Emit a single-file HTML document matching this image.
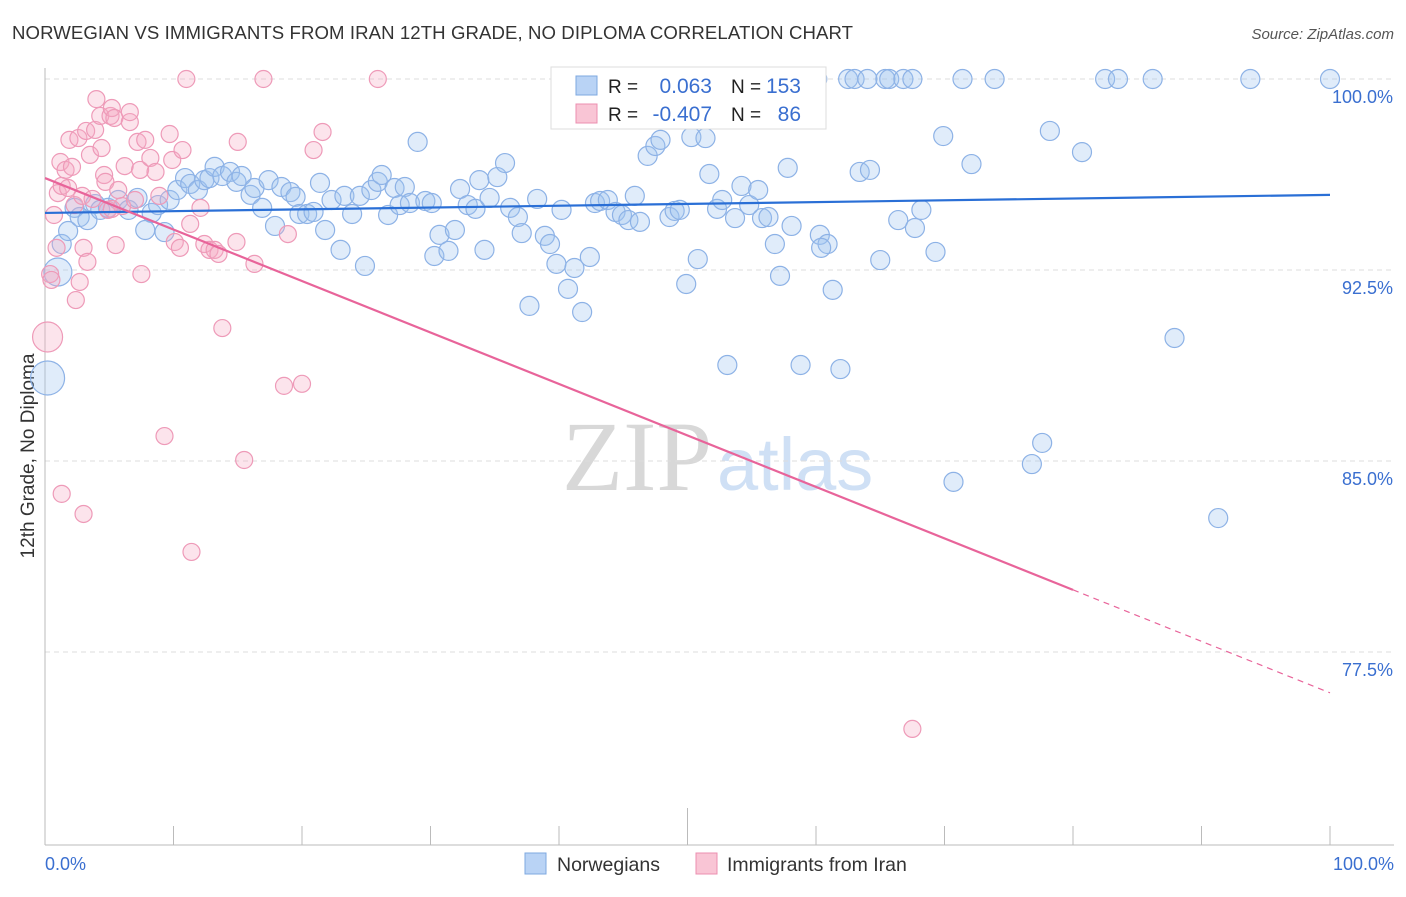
<!DOCTYPE html>
<html><head><meta charset="utf-8">
<style>
body{margin:0;background:#fff;font-family:"Liberation Sans",sans-serif;}
svg text{font-family:"Liberation Sans",sans-serif;}
</style></head>
<body>
<svg id="chart" width="1406" height="892" viewBox="0 0 1406 892" xmlns="http://www.w3.org/2000/svg">
<text x="12" y="39" font-size="18.6" fill="#333" textLength="841">NORWEGIAN VS IMMIGRANTS FROM IRAN 12TH GRADE, NO DIPLOMA CORRELATION CHART</text>
<text x="1394" y="39" font-size="15" fill="#555" font-style="italic" text-anchor="end">Source: ZipAtlas.com</text>
<text x="0" y="0" transform="translate(34,456) rotate(-90)" font-size="19" fill="#333" text-anchor="middle">12th Grade, No Diploma</text>
<g>
<text x="712" y="490" font-size="100" fill="#d8d8d8" text-anchor="end" style="font-family:'Liberation Serif',serif">ZIP</text>
<text x="717" y="490" font-size="74" fill="#cfe0f5" text-anchor="start">atlas</text>
</g>
<g id="grid"></g>
<g id="axes"></g>
<g id="pts"></g>
<g id="trends"></g>
<g>
<rect x="551" y="67" width="275" height="62" fill="#fff" stroke="#ddd"/>
<rect x="576" y="76" width="21" height="19" fill="#b9d3f5" stroke="#7ea8e0"/>
<rect x="576" y="104" width="21" height="19" fill="#f9c5d5" stroke="#ec8fb0"/>
<text x="608" y="93" font-size="19" fill="#222">R = </text><text x="712" y="93" font-size="21" fill="#3a6fd0" text-anchor="end">0.063</text>
<text x="731" y="93" font-size="19" fill="#222">N =</text><text x="801" y="93" font-size="21" fill="#3a6fd0" text-anchor="end">153</text>
<text x="608" y="121" font-size="19" fill="#222">R = </text><text x="712" y="121" font-size="21" fill="#3a6fd0" text-anchor="end">-0.407</text>
<text x="731" y="121" font-size="19" fill="#222">N =</text><text x="801" y="121" font-size="21" fill="#3a6fd0" text-anchor="end">86</text>
</g>
<g>
<rect x="525" y="853" width="21" height="21" fill="#b9d3f5" stroke="#7ea8e0"/>
<text x="557" y="871" font-size="19.5" fill="#333">Norwegians</text>
<rect x="696" y="853" width="21" height="21" fill="#f9c5d5" stroke="#ec8fb0"/>
<text x="727" y="871" font-size="19.5" fill="#333">Immigrants from Iran</text>
</g>
</svg>
<script>
const blueX=[0.2,1.0,1.3,1.8,2.3,2.7,3.3,3.9,4.3,4.9,5.7,6.5,7.2,7.8,8.3,8.8,9.3,9.7,10.3,10.9,11.3,11.9,12.4,12.8,13.2,13.8,14.4,14.9,15.3,16.0,16.3,16.9,17.4,17.9,18.4,19.1,19.5,19.8,20.4,20.9,21.4,21.8,22.3,23.0,23.3,23.9,24.5,24.9,25.4,25.9,26.2,26.7,27.2,27.6,28.0,28.4,29.0,29.6,30.1,30.3,30.7,31.4,31.9,32.3,32.9,33.5,33.8,34.2,34.6,35.2,35.8,36.2,36.8,37.1,37.7,38.3,38.9,39.3,39.8,40.2,40.7,41.2,41.8,42.4,42.8,43.2,43.8,44.4,44.9,45.4,45.9,46.3,46.9,47.5,47.9,48.6,49.0,49.4,49.9,50.3,50.8,51.4,51.7,52.3,52.7,53.1,53.7,54.2,54.8,55.5,55.8,56.3,56.8,57.2,57.8,58.1,58.8,60.1,60.3,60.9,61.3,61.9,62.5,63.0,63.4,64.0,64.2,65.0,65.4,65.7,66.4,66.8,67.5,67.7,68.2,69.3,69.9,71.4,72.1,73.9,76.8,77.6,78.2,80.7,82.5,83.5,86.2,87.9,91.3,93.8,100,70.7,60.4];
const blueY=[88.26,92.42,93.52,94.03,94.94,94.58,94.46,95.09,94.86,94.94,95.25,94.86,95.33,94.07,94.74,95.05,93.99,95.25,95.64,96.11,95.88,95.64,96.03,96.11,96.55,96.19,96.35,95.96,96.19,95.45,95.72,94.94,96.03,94.23,95.76,95.56,95.37,94.70,94.70,94.78,95.92,94.07,95.25,93.29,95.41,94.70,95.41,92.66,95.64,95.96,96.23,94.66,95.72,95.05,95.76,95.13,97.53,95.21,95.13,93.05,93.88,93.25,94.07,95.68,95.05,94.90,96.03,93.29,95.33,96.15,96.70,94.94,94.58,93.95,91.09,95.29,93.84,93.52,92.74,94.86,91.76,92.58,90.85,93.01,95.13,95.21,95.25,94.78,94.66,94.46,95.41,94.39,96.98,97.37,97.61,94.58,94.82,94.86,91.95,97.72,92.93,97.68,96.27,94.90,95.25,88.77,94.54,95.80,95.05,95.64,94.54,94.58,93.52,92.27,96.51,94.23,88.77,100,93.88,93.52,91.72,88.61,100,100,96.35,100,96.43,92.89,100,100,94.46,100,100,94.15,94.86,93.21,97.76,100,96.66,100,84.88,85.71,97.96,97.13,100,100,100,89.83,82.76,100,100,84.18,93.37];
const pinkX=[0.2,0.4,0.5,0.7,0.9,1.0,1.2,1.3,1.6,1.8,1.9,2.1,2.3,2.4,2.6,2.7,2.9,3.0,3.2,3.3,3.5,3.7,3.9,4.0,4.3,4.4,4.6,4.7,4.9,5.1,5.2,5.4,5.5,5.7,6.0,6.2,6.6,7.0,7.2,7.4,7.5,7.8,8.2,8.6,8.9,9.3,9.7,9.9,10.1,10.5,10.7,11.0,11.3,11.4,12.1,12.4,12.8,13.2,13.5,13.8,14.9,15.0,15.5,16.3,17.0,18.6,18.9,20.0,20.9,21.6,25.9,67.5,1.3,3.0,5.2,6.6];
const pinkY=[89.87,92.34,92.11,94.66,93.37,95.52,96.74,95.80,96.43,95.72,97.61,96.55,95.05,91.32,97.68,92.03,95.41,93.37,97.96,92.82,97.02,95.29,98.00,99.21,98.55,97.29,96.23,95.96,94.86,98.55,98.86,98.47,93.48,95.64,95.01,96.58,98.31,95.25,97.53,96.43,92.34,97.61,96.90,96.35,95.41,85.98,97.84,96.82,93.60,93.37,97.21,100,94.31,81.43,94.94,93.52,93.29,93.29,93.13,90.22,93.60,97.53,85.04,92.74,100,87.95,93.91,88.03,97.21,97.92,100,74.48,83.71,82.92,94.90,98.70];
const blueR=[17,14];
const pinkR=[15];
const blueTrend=[94.74,95.45];
const pinkTrend=[96.11,79.94];
const yTicks=[100,92.5,85,77.5];
const yTickLabels=["100.0%","92.5%","85.0%","77.5%"];
const xTickVals=[0,10,20,30,40,50,60,70,80,90,100];

const X0=45,X1=1330,Y100=79,PXPER=191/7.5;
const sx=v=>X0+(X1-X0)*v/100;
const sy=v=>Y100+(100-v)*PXPER;
const NS="http://www.w3.org/2000/svg";
function mk(tag,attrs,parent){const e=document.createElementNS(NS,tag);for(const k in attrs)e.setAttribute(k,attrs[k]);parent.appendChild(e);return e;}
const grid=document.getElementById('grid'),axes=document.getElementById('axes'),pts=document.getElementById('pts'),trends=document.getElementById('trends');
yTicks.forEach((t,i)=>{
  const l=mk('line',{x1:X0,x2:1394,y1:sy(t),y2:sy(t),stroke:'#ddd','stroke-dasharray':'5,4'},grid);
  
  
  const tx=mk('text',{x:1393,y:sy(t)+24,'font-size':18,fill:'#3a6fd0','text-anchor':'end'},axes);
  tx.textContent=yTickLabels[i];
  
  
});
const ax=mk('line',{x1:X0,x2:1394,y1:845,y2:845,stroke:'#bbb'},axes);


const ay=mk('line',{x1:X0,x2:X0,y1:68,y2:845,stroke:'#bbb'},axes);


xTickVals.forEach(v=>{
  const tk=mk('line',{x1:sx(v),x2:sx(v),y1:v===50?808:826,y2:845,stroke:'#bbb'},axes);
  
  
});
const xl0=mk('text',{x:45,y:870,'font-size':18,fill:'#3a6fd0'},axes);xl0.textContent='0.0%';


const xl1=mk('text',{x:1394,y:870,'font-size':18,fill:'#3a6fd0','text-anchor':'end'},axes);xl1.textContent='100.0%';


blueX.forEach((x,i)=>{
  const c=mk('circle',{cx:sx(x),cy:sy(blueY[i]),r:blueR[i]||9.5,fill:'rgba(160,195,240,0.32)',stroke:'#8db2e6','stroke-width':1.2},pts);
  
  
});
pinkX.forEach((x,i)=>{
  const c=mk('circle',{cx:sx(x),cy:sy(pinkY[i]),r:pinkR[i]||8.5,fill:'rgba(245,170,195,0.32)',stroke:'#ee9ab8','stroke-width':1.2},pts);
  
  
});
const bl=mk('line',{x1:sx(0),y1:sy(blueTrend[0]),x2:sx(100),y2:sy(blueTrend[1]),stroke:'#2a6fd6','stroke-width':2.2},trends);


const slope=(pinkTrend[1]-pinkTrend[0])/80;
const pl=mk('line',{x1:sx(0),y1:sy(pinkTrend[0]),x2:sx(80),y2:sy(pinkTrend[1]),stroke:'#e8649a','stroke-width':2.2},trends);


const pd=mk('line',{x1:sx(80),y1:sy(pinkTrend[1]),x2:sx(100),y2:sy(pinkTrend[1]+slope*20),stroke:'#e8649a','stroke-width':1.2,'stroke-dasharray':'6,5'},trends);


</script>
</body></html>
